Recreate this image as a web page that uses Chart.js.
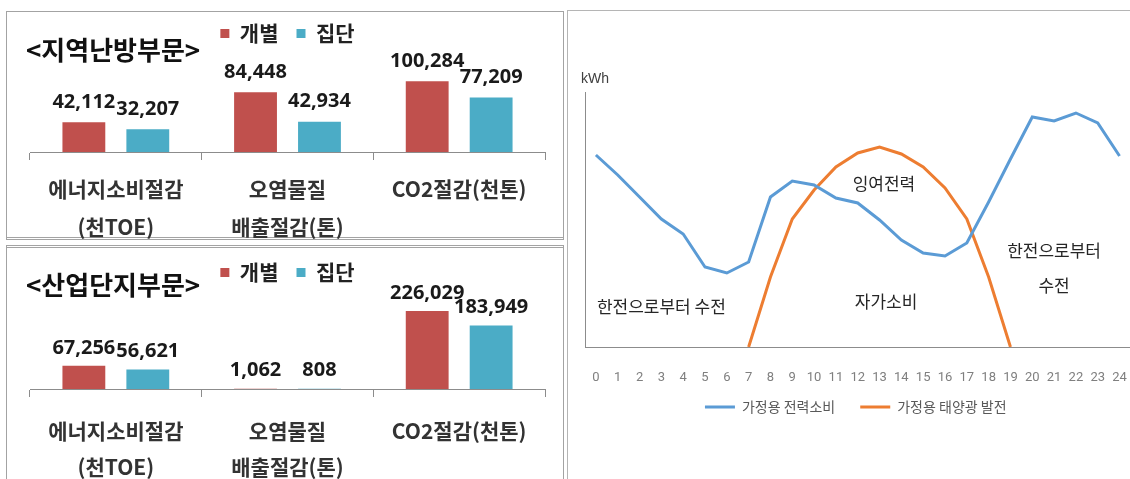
<!DOCTYPE html>
<html><head><meta charset="utf-8">
<script src="https://cdn.jsdelivr.net/npm/chart.js@4.4.1/dist/chart.umd.min.js"></script>
<style>
html,body{margin:0;padding:0;width:1130px;height:479px;overflow:hidden;background:#fff;}
.box{position:absolute;border:1px solid #a3a3a3;box-sizing:border-box;}
canvas{position:absolute;}
.ttl{position:absolute;font:bold 26px "Noto Sans CJK KR",sans-serif;color:#111;line-height:1;white-space:nowrap;}
</style></head><body>
<div class="box" style="left:6px;top:11px;width:558px;height:229px;border-bottom:3px double #a3a3a3"></div>
<div class="box" style="left:6px;top:245px;width:558px;height:260px;border-top:3px double #a3a3a3"></div>
<div class="box" style="left:567px;top:10px;width:580px;height:480px;border-color:#b5b5b5"></div>
<canvas id="c1" width="558" height="240" style="left:6px;top:0"></canvas>
<canvas id="c2" width="558" height="239" style="left:6px;top:240px"></canvas>
<canvas id="c3" width="575" height="467" style="left:567px;top:12px"></canvas>
<div class="ttl" style="left:26px;top:36px">&lt;지역난방부문&gt;</div>
<div class="ttl" style="left:26px;top:271px">&lt;산업단지부문&gt;</div>
<script>
// ---- data ----
const categories = [['에너지소비절감', '(천TOE)'], ['오염물질', '배출절감(톤)'], ['CO2절감(천톤)']];
const seriesNames = ['개별', '집단'];
const heatingIndividual = [42112, 84448, 100284];
const heatingCollective = [32207, 42934, 77209];
const industryIndividual = [67256, 1062, 226029];
const industryCollective = [56621, 808, 183949];

const hours = ['0','1','2','3','4','5','6','7','8','9','10','11','12','13','14','15','16','17','18','19','20','21','22','23','24'];
const lineNames = ['가정용 전력소비', '가정용 태양광 발전'];
const consumption = [192,172,150,128,113,80,74,85,150,166,162,149,144,127,107,94,91,104,145,188,230,226,234,224,191];
const solar = [null,null,null,null,null,null,null,0,70,128,157,180,194,200,193,180,159,128,70,0,null,null,null,null,null];

// ---- styles ----
const KR = '"Noto Sans CJK KR", sans-serif';
const RED = '#C0504D', AQUA = '#4BACC6', BLUE = '#5B9BD5', ORANGE = '#ED7D31';
const AXIS = '#8c8c8c';

const valueLabels = {
  id: 'valueLabels',
  afterDatasetsDraw(chart, args, opts) {
    const ctx = chart.ctx; ctx.save();
    ctx.font = 'bold 20px "Noto Sans", sans-serif'; ctx.fillStyle = '#1a1a1a';
    ctx.textAlign = 'center'; ctx.textBaseline = 'middle';
    chart.data.datasets.forEach((ds, i) => {
      chart.getDatasetMeta(i).data.forEach((bar, j) => {
        ctx.fillText(ds.data[j].toLocaleString('en-US'), bar.x, bar.y - opts.offset);
      });
    });
    ctx.restore();
  }
};

function barChart(id, d1, d2, o) {
  new Chart(document.getElementById(id), {
    type: 'bar',
    data: {
      labels: categories,
      datasets: [
        {label: seriesNames[0], data: d1, backgroundColor: RED, categoryPercentage: 0.745, barPercentage: 0.67},
        {label: seriesNames[1], data: d2, backgroundColor: AQUA, categoryPercentage: 0.745, barPercentage: 0.67}
      ]
    },
    options: {
      responsive: false, animation: false,
      layout: {padding: {top: o.padTop, left: 24, right: 19, bottom: 0}},
      plugins: {
        legend: {position: 'top', labels: {boxWidth: 9, boxHeight: 9, padding: 18, color: '#222', font: {family: KR, size: 21, weight: 'bold'}}},
        tooltip: {enabled: false},
        valueLabels: {offset: o.labelOffset}
      },
      scales: {
        x: {
          grid: {display: true, offset: true, drawOnChartArea: false, tickLength: 8, color: AXIS},
          border: {display: true, color: AXIS},
          ticks: {padding: o.tickPad, color: '#333', autoSkip: false, maxRotation: 0,
                  font: {family: KR, size: 21, weight: 'bold', lineHeight: o.lineH / 21}},
          afterFit: s => { s.height = o.axisH; }
        },
        y: {display: false, min: 0, max: o.yMax}
      }
    },
    plugins: [valueLabels]
  });
}

barChart('c1', heatingIndividual, heatingCollective, {padTop: 5, tickPad: 10, lineH: 38, axisH: 88, yMax: 138700, labelOffset: 20});
barChart('c2', industryIndividual, industryCollective, {padTop: 4, tickPad: 16, lineH: 36, axisH: 90, yMax: 278500, labelOffset: 18});

const notes = {
  id: 'notes',
  afterLayout(chart) {
    // lift the legend closer to the axis labels
    chart.legend.top -= 18; chart.legend.bottom -= 18;
  },
  afterDraw(chart) {
    const {ctx, scales: {x, y}, chartArea} = chart;
    ctx.save();
    ctx.fillStyle = '#404040'; ctx.font = '14px "Liberation Sans", sans-serif';
    ctx.textAlign = 'left'; ctx.textBaseline = 'middle';
    ctx.fillText('kWh', chartArea.left - 4, chartArea.top - 13);
    ctx.fillStyle = '#262626'; ctx.font = '17px ' + KR; ctx.textAlign = 'center';
    const items = [['한전으로부터 수전', 3, 40], ['잉여전력', 13.2, 163], ['자가소비', 13.3, 45], ['한전으로부터', 21, 96], ['수전', 21, 61]];
    items.forEach(([t, h, v]) => ctx.fillText(t, x.getPixelForValue(h), y.getPixelForValue(v)));
    ctx.restore();
  }
};

new Chart(document.getElementById('c3'), {
  type: 'line',
  data: {
    labels: hours,
    datasets: [
      {label: lineNames[0], data: consumption, borderColor: BLUE, backgroundColor: BLUE, borderWidth: 3, pointRadius: 0, tension: 0},
      {label: lineNames[1], data: solar, borderColor: ORANGE, backgroundColor: ORANGE, borderWidth: 3, pointRadius: 0, tension: 0}
    ]
  },
  options: {
    responsive: false, animation: false,
    layout: {padding: {top: 80, left: 10, right: 7.5, bottom: 37}},
    plugins: {
      legend: {position: 'bottom', labels: {usePointStyle: true, pointStyle: 'line', pointStyleWidth: 30, padding: 25, color: '#595959', font: {family: KR, size: 14}}},
      tooltip: {enabled: false}
    },
    scales: {
      x: {
        offset: true,
        grid: {display: false},
        border: {display: true, color: AXIS},
        ticks: {padding: 15, color: '#7f7f7f', autoSkip: false, maxRotation: 0, font: {family: 'Roboto', size: 13}},
        afterFit: s => { s.height = 46; }
      },
      y: {min: 0, max: 255, grid: {display: false}, border: {display: true, color: AXIS}, ticks: {display: false}}
    }
  },
  plugins: [notes]
});
</script>
</body></html>
